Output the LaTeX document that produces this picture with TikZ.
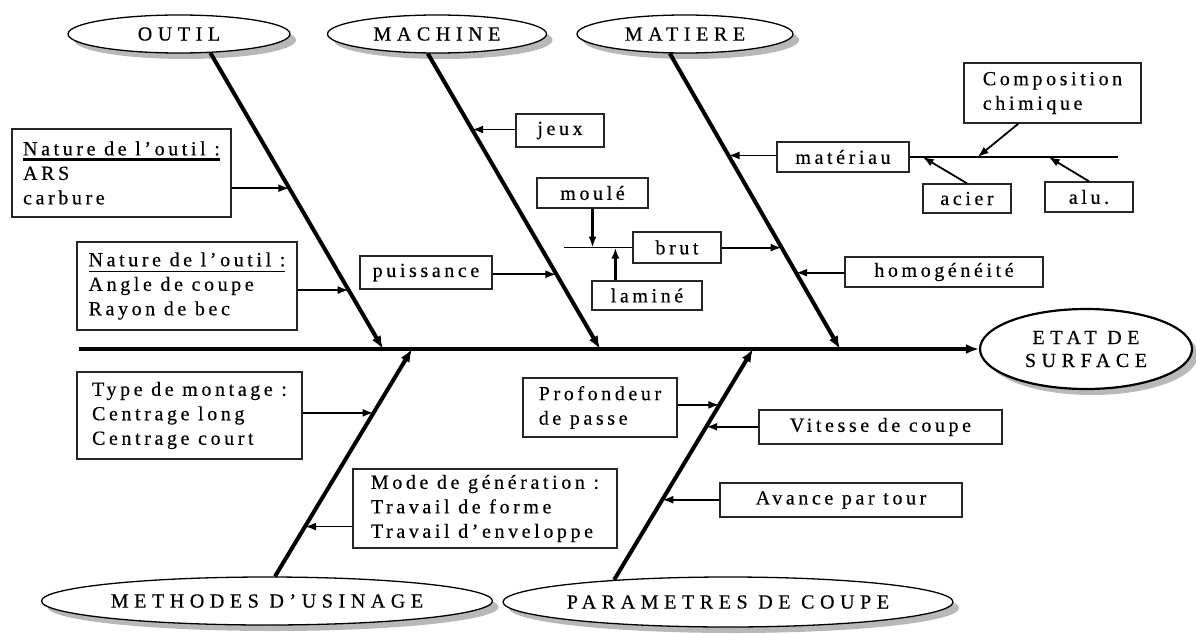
\documentclass[tikz,border=0pt]{standalone}
\usepackage{fontspec}
\setmainfont{Liberation Serif}[LetterSpace=18,FakeBold=0.4]
\newfontfamily\ovalfont{Liberation Serif}[LetterSpace=28,FakeBold=0.5]
\usetikzlibrary{arrows.meta,calc,shapes.geometric}
\newcommand\lignesous[2]{\setbox0\hbox{#2}\rlap{\rule[-6pt]{\wd0}{#1}}\box0}

\begin{document}
\begin{tikzpicture}[x=1pt,y=-1pt,
        cbox/.style={draw=black!85,line width=1.3pt,inner xsep=5pt,inner ysep=0pt,align=left,font=\fontsize{20}{24.5}\selectfont},
        oval/.style={ellipse,draw,fill=white,line width=1.3pt,inner xsep=-20pt,inner ysep=0pt,align=center,font=\ovalfont\fontsize{20}{23}\selectfont,preaction={fill=black!28,transform canvas={shift={(6pt,-6pt)}}}},
        bone/.style={line width=4pt,-{Latex[length=13pt,width=10pt]}},
        twig/.style={line width=1.8pt,-{Latex[length=11pt,width=8pt]}}]
    \useasboundingbox (0,0) rectangle (1196,634);
    % tete et arete
    \path (1086,349) node [oval,minimum width=212pt,minimum height=80pt,line width=2.2pt] (etat) {ETAT DE\\SURFACE};
    \coordinate (queue) at (79,349);
    \draw [bone] (queue) -- (etat.west);
    % familles
    \path (179,34) node [oval,minimum width=222pt,minimum height=38pt] (outil) {OUTIL};
    \path (437,34) node [oval,minimum width=219pt,minimum height=38pt] (machine) {MACHINE};
    \path (685,34) node [oval,minimum width=216pt,minimum height=38pt] (matiere) {MATIERE};
    \path (267,601) node [oval,minimum width=451pt,minimum height=48pt] (methodes) {METHODES D’USINAGE};
    \path (728,602) node [oval,minimum width=450pt,minimum height=50pt] (param) {PARAMETRES DE COUPE};
    \coordinate (o1) at (383,349);
    \coordinate (a1) at (600,349);
    \coordinate (t1) at (840,349);
    \coordinate (u1) at (412,349);
    \coordinate (p1) at (753,349);
    \draw [bone] (outil.-31) -- (o1);
    \draw [bone] (machine.-115) -- (a1);
    \draw [bone] (matiere.-128) -- (t1);
    \draw [bone] (methodes.72) -- (u1);
    \draw [bone] (param.169) -- (p1);
    \coordinate (oa) at ($(outil.-31)!0.457!(o1)$);
    \coordinate (ob) at ($(outil.-31)!0.801!(o1)$);
    \coordinate (aa) at ($(machine.-115)!0.257!(a1)$);
    \coordinate (ab) at ($(machine.-115)!0.747!(a1)$);
    \coordinate (ta) at ($(matiere.-128)!0.345!(t1)$);
    \coordinate (tb) at ($(matiere.-128)!0.657!(t1)$);
    \coordinate (tc) at ($(matiere.-128)!0.742!(t1)$);
    \coordinate (ua) at ($(methodes.72)!0.719!(u1)$);
    \coordinate (ub) at ($(methodes.72)!0.219!(u1)$);
    \coordinate (pa) at ($(param.169)!0.758!(p1)$);
    \coordinate (pb) at ($(param.169)!0.663!(p1)$);
    \coordinate (pc) at ($(param.169)!0.347!(p1)$);
    % causes
    \path (121.5,173) node [cbox,minimum width=219pt,minimum height=88pt] (ars) {\lignesous{3pt}{Nature de l’outil :}\\ARS\\carbure};
    \path (187,286) node [cbox,minimum width=220pt,minimum height=88pt] (angle) {\lignesous{1.5pt}{Nature de l’outil :}\\Angle de coupe\\Rayon de bec};
    \path (426,272.5) node [cbox,minimum width=132pt,minimum height=33pt] (puiss) {puissance};
    \path (560,130.5) node [cbox,minimum width=88pt,minimum height=33pt] (jeux) {jeux};
    \path (592.5,193) node [cbox,minimum width=111pt,minimum height=30pt] (moule) {moulé};
    \path (677,247.5) node [cbox,minimum width=88pt,minimum height=31pt] (brut) {brut};
    \path (647,295.5) node [cbox,minimum width=110pt,minimum height=29pt] (lamine) {laminé};
    \path (843,157) node [cbox,minimum width=132pt,minimum height=30pt] (materiau) {matériau};
    \path (1052.5,93) node [cbox,minimum width=177pt,minimum height=60pt] (compo) {Composition\\chimique};
    \path (967,198.5) node [cbox,minimum width=88pt,minimum height=29pt] (acier) {acier};
    \path (1089,197) node [cbox,minimum width=88pt,minimum height=30pt] (alu) {alu.};
    \path (944,272) node [cbox,minimum width=198pt,minimum height=30pt] (homog) {homogénéité};
    \path (189.5,415.5) node [cbox,minimum width=225pt,minimum height=87pt] (montage) {Type de montage :\\Centrage long\\Centrage court};
    \path (485,508.5) node [cbox,minimum width=264pt,minimum height=79pt] (mode) {Mode de génération :\\Travail de forme\\Travail d’enveloppe};
    \path (600,407.5) node [cbox,minimum width=154pt,minimum height=59pt] (profond) {Profondeur\\de passe};
    \path (880.5,427) node [cbox,minimum width=243pt,minimum height=34pt] (vitesse) {Vitesse de coupe};
    \path (841,500) node [cbox,minimum width=242pt,minimum height=34pt] (avance) {Avance par tour};
    % fleches
    \draw [twig] (ars.east |- oa) -- (oa);
    \draw [twig] (angle.east |- ob) -- (ob);
    \draw [twig] (jeux.west |- aa) -- (aa);
    \draw [twig] (puiss.east |- ab) -- (ab);
    \draw [twig] (materiau.west |- ta) -- (ta);
    \draw [twig] (brut.east |- tb) -- (tb);
    \draw [twig] (homog.west |- tc) -- (tc);
    \draw [twig] (montage.east |- ua) -- (ua);
    \draw [twig] (mode.west |- ub) -- (ub);
    \draw [twig] (profond.east |- pa) -- (pa);
    \draw [twig] (vitesse.west |- pb) -- (pb);
    \draw [twig] (avance.west |- pc) -- (pc);
    % brut
    \draw [line width=1.3pt] (brut.west) -- ++(-68,0) coordinate (bj);
    \coordinate (lm) at ($(lamine.north west)+(24,0)$);
    \draw [twig,line width=2.5pt] (moule.south) -- (moule.south |- bj);
    \draw [twig,line width=2.5pt] (lm) -- (lm |- bj);
    % materiau
    \draw [line width=1.3pt] (materiau.east) -- ++(208,0) coordinate (mfin);
    \coordinate (mc) at ($(materiau.east)+(68,0)$);
    \coordinate (ma) at ($(materiau.east)+(13,0)$);
    \coordinate (ml) at ($(materiau.east)+(139,0)$);
    \draw [twig] ($(compo.south west)+(55,0)$) -- (mc);
    \draw [twig] (acier.north) -- (ma);
    \draw [twig] (alu.north) -- (ml);
\end{tikzpicture}
\end{document}
